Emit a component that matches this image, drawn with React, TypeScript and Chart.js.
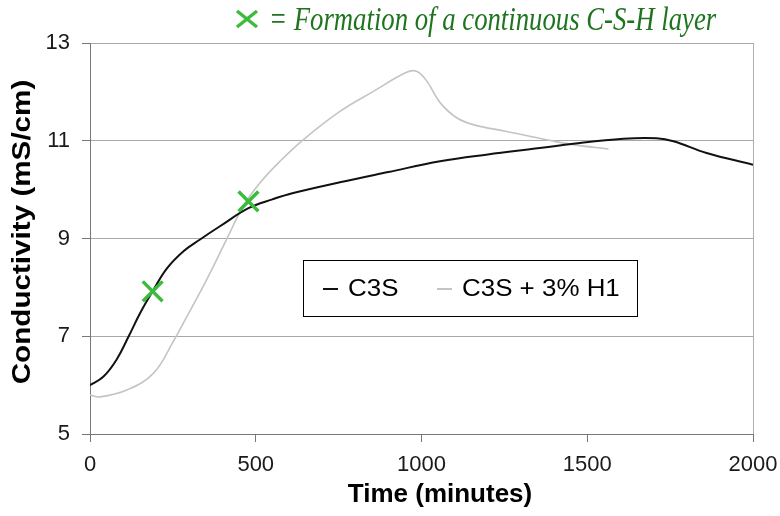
import React, { useEffect, useRef } from 'react';
import { Chart, registerables } from 'chart.js';

Chart.register(...registerables);

// ---- data ----
const c3sTime = [0, 40, 80, 116, 151, 189, 231, 282, 332, 392, 478, 550, 613, 754, 900, 1056, 1200, 1357, 1458, 1609, 1709, 1760, 1860, 2000];
const c3sValue = [6.0, 6.17, 6.52, 6.99, 7.47, 7.92, 8.38, 8.74, 8.98, 9.25, 9.62, 9.8, 9.93, 10.15, 10.36, 10.58, 10.72, 10.85, 10.94, 11.04, 11.05, 10.99, 10.75, 10.51];

const h1Time = [0, 30, 111, 191, 251, 292, 352, 412, 462, 513, 573, 643, 754, 855, 955, 985, 1016, 1056, 1106, 1156, 1257, 1378, 1458, 1564];
const h1Value = [5.8, 5.76, 5.9, 6.24, 6.89, 7.4, 8.16, 8.98, 9.66, 10.14, 10.58, 11.02, 11.6, 12.01, 12.4, 12.42, 12.22, 11.78, 11.47, 11.33, 11.19, 11.02, 10.92, 10.83];

const markerTime = [189, 478];
const markerValue = [7.92, 9.76];

const xTicks = [0, 500, 1000, 1500, 2000];
const yTicks = [5, 7, 9, 11, 13];

const seriesLabels = ['C3S', 'C3S + 3% H1'];
const titleText = '= Formation of a continuous C-S-H layer';
const xTitle = 'Time (minutes)';
const yTitle = 'Conductivity (mS/cm)';

const GREEN = '#3dbb3d';
const DARK_GREEN = '#1f741f';
const SANS = '"Liberation Sans", Arial, sans-serif';
const SERIF = '"Liberation Serif", "Times New Roman", serif';

const toPoints = (xs: number[], ys: number[]) => xs.map((x, i) => ({ x, y: ys[i] }));

function drawCross(ctx: CanvasRenderingContext2D, cx: number, cy: number, hw: number, hh: number) {
  ctx.beginPath();
  ctx.moveTo(cx - hw, cy - hh);
  ctx.lineTo(cx + hw, cy + hh);
  ctx.moveTo(cx + hw, cy - hh);
  ctx.lineTo(cx - hw, cy + hh);
  ctx.stroke();
}

const overlayPlugin = {
  id: 'overlay',
  afterDraw(chart: any) {
    const ctx: CanvasRenderingContext2D = chart.ctx;
    ctx.save();

    // title with green cross
    ctx.strokeStyle = GREEN;
    ctx.lineWidth = 3.5;
    ctx.lineCap = 'butt';
    drawCross(ctx, 247, 19, 10, 8);
    ctx.fillStyle = DARK_GREEN;
    ctx.font = `italic 33px ${SERIF}`;
    ctx.textAlign = 'left';
    ctx.textBaseline = 'alphabetic';
    ctx.save();
    ctx.translate(269, 30);
    ctx.scale(0.81, 1);
    ctx.fillText(titleText, 0, 0);
    ctx.restore();

    // axis titles
    ctx.fillStyle = '#000';
    ctx.font = `bold 26px ${SANS}`;
    ctx.textAlign = 'center';
    ctx.textBaseline = 'middle';
    ctx.fillText(xTitle, 440, 495);
    ctx.save();
    ctx.translate(23, 232);
    ctx.rotate(-Math.PI / 2);
    ctx.scale(1.14, 1);
    ctx.fillText(yTitle, 0, 0);
    ctx.restore();

    // legend box inside plot
    const bx = 303, by = 260, bw = 334, bh = 56;
    ctx.fillStyle = '#fff';
    ctx.fillRect(bx, by, bw, bh);
    ctx.strokeStyle = '#000';
    ctx.lineWidth = 1;
    ctx.strokeRect(bx + 0.5, by + 0.5, bw, bh);
    const ds = chart.data.datasets;
    const items = [
      { ds: ds[1], lx: 323, tx: 348 },
      { ds: ds[2], lx: 437, tx: 462 },
    ];
    ctx.font = `24px ${SANS}`;
    ctx.textAlign = 'left';
    ctx.textBaseline = 'middle';
    items.forEach(it => {
      ctx.strokeStyle = it.ds.borderColor;
      ctx.lineWidth = 2;
      ctx.beginPath();
      ctx.moveTo(it.lx, 289);
      ctx.lineTo(it.lx + 15, 289);
      ctx.stroke();
      ctx.fillStyle = '#000';
      ctx.save();
      ctx.translate(it.tx, 289);
      ctx.scale(1.08, 1);
      ctx.fillText(it.ds.label, 0, 0);
      ctx.restore();
    });

    ctx.restore();
  },
};

export default function App() {
  const canvasRef = useRef<HTMLCanvasElement | null>(null);

  useEffect(() => {
    const canvas = canvasRef.current;
    if (!canvas) return;
    const chart = new Chart(canvas, {
      type: 'scatter',
      data: {
        datasets: [
          {
            label: 'C-S-H layer',
            data: toPoints(markerTime, markerValue),
            showLine: false,
            pointStyle: 'crossRot',
            pointRadius: 14,
            pointBorderWidth: 3.5,
            borderColor: GREEN,
            backgroundColor: GREEN,
          },
          {
            label: seriesLabels[0],
            data: toPoints(c3sTime, c3sValue),
            showLine: true,
            borderColor: '#111',
            borderWidth: 2,
            pointRadius: 0,
            tension: 0.4,
          },
          {
            label: seriesLabels[1],
            data: toPoints(h1Time, h1Value),
            showLine: true,
            borderColor: '#c4c4c4',
            borderWidth: 1.6,
            pointRadius: 0,
            tension: 0.4,
          },
        ],
      },
      options: {
        animation: false,
        responsive: false,
        layout: { padding: { top: 43, right: 27, left: 0, bottom: 0 } },
        plugins: {
          legend: { display: false },
          title: { display: false },
          tooltip: { enabled: false },
        },
        scales: {
          x: {
            type: 'linear',
            min: 0,
            max: 2000,
            afterFit: (s: any) => { s.height = 82; s.paddingLeft = 0; s.paddingRight = 0; },
            afterBuildTicks: (s: any) => { s.ticks = xTicks.map(v => ({ value: v })); },
            ticks: {
              font: { family: SANS, size: 22 },
              color: '#1a1a1a',
              padding: 10,
              maxRotation: 0,
              callback: (v: any) => String(v),
            },
            grid: {
              color: (c: any) => (c.tick && c.tick.value === 2000 ? '#b0b0b0' : 'rgba(0,0,0,0)'),
              tickColor: '#777',
              tickLength: 8,
              lineWidth: 1,
            },
            border: { color: '#777', width: 1 },
          },
          y: {
            type: 'linear',
            min: 5,
            max: 13,
            afterFit: (s: any) => { s.width = 90; s.paddingTop = 0; s.paddingBottom = 0; },
            afterBuildTicks: (s: any) => { s.ticks = yTicks.map(v => ({ value: v })); },
            ticks: {
              font: { family: SANS, size: 22 },
              color: '#1a1a1a',
              padding: 12,
              callback: (v: any) => String(v),
            },
            grid: {
              color: '#a8a8a8',
              tickColor: '#777',
              tickLength: 8,
              lineWidth: 1,
            },
            border: { color: '#777', width: 1 },
          },
        },
      },
      plugins: [overlayPlugin],
    } as any);
    return () => chart.destroy();
  }, []);

  return (
    <div style={{ position: 'absolute', left: 0, top: 0, width: 780, height: 516, background: '#fff' }}>
      <canvas ref={canvasRef} width={780} height={516} />
    </div>
  );
}
